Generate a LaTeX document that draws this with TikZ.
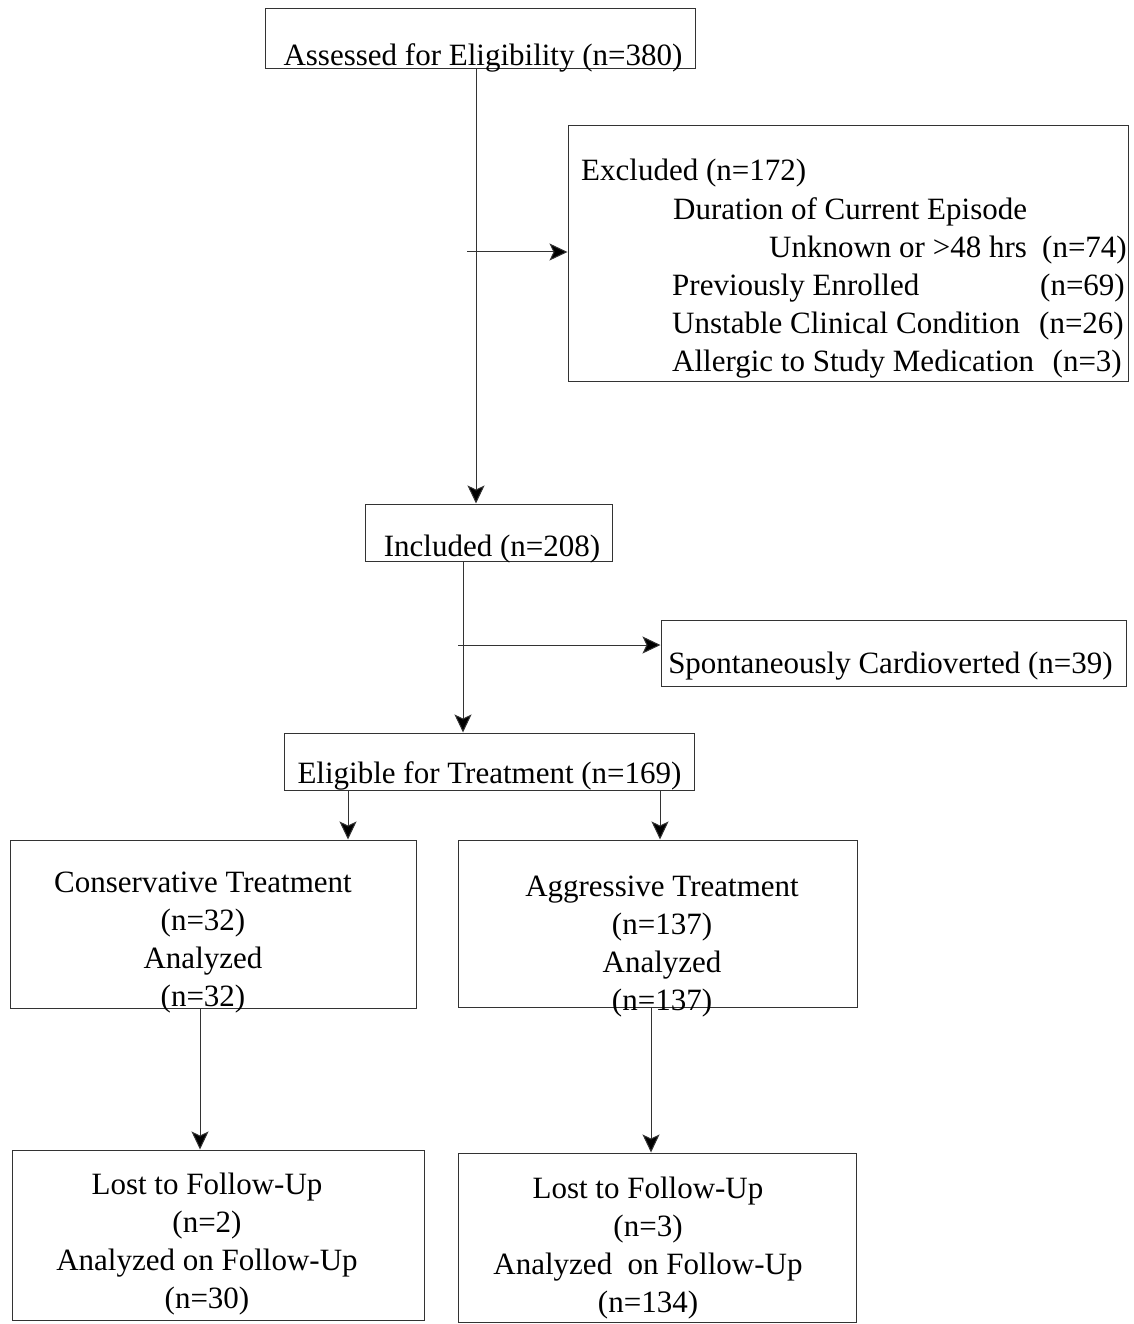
\documentclass[tikz,border=0pt]{standalone}
\usepackage{fontspec}
\setmainfont{Liberation Serif}
\usepackage{tikz}
\usetikzlibrary{arrows.meta, positioning, calc}

\begin{document}
\begin{tikzpicture}[x=1pt, y=-1pt,
    box/.style={draw=black!80, line width=1pt, inner sep=0pt},
    txt/.style={inner sep=0pt, font=\fontsize{31}{38}\selectfont, text height=22pt, text depth=8pt},
    mtxt/.style={inner sep=0pt, font=\fontsize{31}{38}\selectfont, align=center},
    arr/.style={draw=black!80, line width=1pt, -{Stealth[length=18pt, width=17pt, inset=4pt, fill=black]}}]
  \useasboundingbox (0,0) rectangle (1133,1324);

  \node[box, minimum width=430, minimum height=60] (assess) at (480,39) {};
  \node[txt] (assessT) at (483,59) {Assessed for Eligibility (n=380)};

  \node[box, minimum width=560, minimum height=255] (excl) at (848,253.5) {};
  \node[txt, anchor=west] (exclA) at (581,174) {Excluded (n=172)};
  \node[txt, anchor=west] (exclB) at (673,213) {Duration of Current Episode};
  \node[txt, anchor=west] (exclC) at (769,251) {Unknown or >48 hrs};
  \node[txt, anchor=east] (exclCn) at (1127,251) {(n=74)};
  \node[txt, anchor=west] (exclD) at (672,288) {Previously Enrolled};
  \node[txt, anchor=east] (exclDn) at (1125,288) {(n=69)};
  \node[txt, anchor=west] (exclE) at (672,326) {Unstable Clinical Condition};
  \node[txt, anchor=east] (exclEn) at (1124,326) {(n=26)};
  \node[txt, anchor=west] (exclF) at (672,364) {Allergic to Study Medication};
  \node[txt, anchor=east] (exclFn) at (1122,364) {(n=3)};

  \node[box, minimum width=247, minimum height=57] (incl) at (488.5,532.5) {};
  \node[txt] (inclT) at (492,549) {Included (n=208)};

  \node[box, minimum width=465, minimum height=66] (spont) at (893.5,653) {};
  \node[txt] (spontT) at (890.5,666) {Spontaneously Cardioverted (n=39)};

  \node[box, minimum width=410, minimum height=57] (elig) at (489,761.5) {};
  \node[txt] (eligT) at (489.5,776) {Eligible for Treatment (n=169)};

  \node[box, minimum width=406, minimum height=168] (cons) at (213,924) {};
  \node[mtxt] (consT) at (203,943) {Conservative Treatment\\(n=32)\\Analyzed\\(n=32)};

  \node[box, minimum width=399, minimum height=167] (aggr) at (657.5,923.5) {};
  \node[mtxt] (aggrT) at (662,947) {Aggressive Treatment\\(n=137)\\Analyzed\\(n=137)};

  \node[box, minimum width=412, minimum height=170] (lostc) at (218,1235) {};
  \node[mtxt] (lostcT) at (207,1244) {Lost to Follow-Up\\(n=2)\\Analyzed on Follow-Up\\(n=30)};

  \node[box, minimum width=398, minimum height=169] (losta) at (657,1237.5) {};
  \node[mtxt] (lostaT) at (648,1248) {Lost to Follow-Up\\(n=3)\\Analyzed\ \ on Follow-Up\\(n=134)};

  \coordinate (spineA) at (476,252);
  \coordinate (spineB) at (463,645);

  \draw[arr] (assess.south -| spineA) -- (incl.north -| spineA);
  \draw[arr] ([xshift=-9pt]spineA) -- (excl.west |- spineA);
  \draw[arr] (incl.south -| spineB) -- (elig.north -| spineB);
  \draw[arr] ([xshift=-5pt]spineB) -- (spont.west |- spineB);
  \draw[arr] ([xshift=-141pt]elig.south) -- ([xshift=-141pt]elig.south |- cons.north);
  \draw[arr] ([xshift=171pt]elig.south) -- ([xshift=171pt]elig.south |- aggr.north);
  \draw[arr] ([xshift=-13pt]cons.south) -- ([xshift=-13pt]cons.south |- lostc.north);
  \draw[arr] ([xshift=-6.5pt]aggr.south) -- ([xshift=-6.5pt]aggr.south |- losta.north);
\end{tikzpicture}
\end{document}
